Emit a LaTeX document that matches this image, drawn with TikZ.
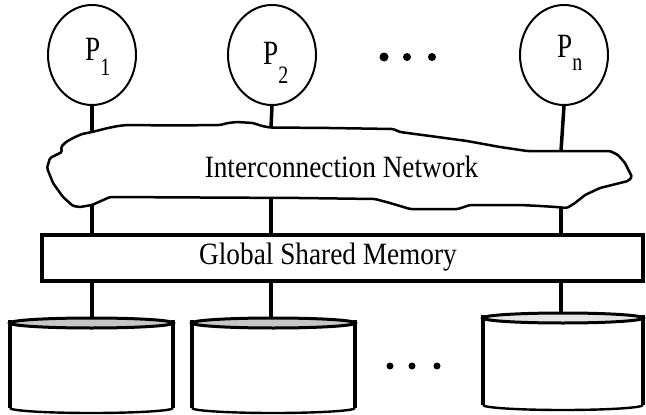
\documentclass[tikz,border=0pt]{standalone}
\usepackage{fontspec}
\setmainfont{Liberation Serif}
\usetikzlibrary{shapes.geometric}
\newcommand{\subsz}[2]{{\fontsize{25}{26}\selectfont\raisebox{-#1pt}{#2}}}
\begin{document}
\begin{tikzpicture}[x=1pt,y=-1pt,
  proc/.style={draw, ellipse, line width=2pt, minimum width=88pt, minimum height=100pt, inner sep=0pt},
  plabel/.style={anchor=base west, inner sep=0pt, xscale=0.8, font=\fontsize{34}{36}\selectfont},
  conn/.style={line width=3.5pt},
  cloudline/.style={line width=2.5pt, line join=round, rounded corners=1.5pt},
  memtext/.style={anchor=base, inner sep=0pt, xscale=0.88, font=\fontsize{31}{33}\selectfont},
  membox/.style={draw, line width=3.5pt, minimum width=601pt, minimum height=46pt, inner sep=0pt},
  dot/.style={fill=black, circle, inner sep=0pt},
  cylside/.style={line width=3.5pt},
  cyltop/.style={line width=3pt, fill=gray!45},
  cylbot/.style={line width=2.4pt}
]
\useasboundingbox (0,0) rectangle (646,415);

% processors
\node[proc] (p1) at (92,55) {};
\node[proc] (p2) at (272,55) {};
\node[proc] (pn) at (564,55) {};
\node[plabel] (l1) at (85,60) {P\subsz{15}{1}};
\node[plabel] (l2) at (263,64) {P\subsz{19}{2}};
\node[plabel] (ln) at (557,57) {P\subsz{13}{n}};
\node[dot, minimum size=9pt] (d1) at (384,57) {};
\node[dot, minimum size=8pt] (d2) at (407,57) {};
\node[dot, minimum size=8pt] (d3) at (432,57) {};

% cloud
\draw[cloudline] (92,132) -- (100,130) -- (108,128) -- (118,126) -- (127,125) -- (175,125.5) -- (220,125)
  -- (228,123) -- (237,122) -- (245,122.5) -- (253,123) -- (262,126) -- (270,127.5)
  -- (330,128) -- (393,129) -- (400,132) -- (430,136) -- (467,141) -- (500,147) -- (527,151)
  -- (564,151) -- (610,151) -- (618,155) -- (625,163) -- (632,177) -- (628,181) -- (620,183)
  -- (600,188) -- (585,195) -- (575,203) -- (567,208) -- (556,207) -- (540,206) -- (520,205)
  -- (470,205) -- (458,209) -- (410,209) -- (390,203) -- (375,199) -- (300,198)
  -- (200,197.5) -- (110,197) -- (92,205) -- (80,207) -- (73,206) -- (63,197) -- (53,183)
  -- (47,168) -- (50,158) -- (56,155) -- (62,152) -- (61,147) -- (66,142) -- (73,138) -- (82,134) -- cycle;
\coordinate (c1t) at (92,132);
\coordinate (c2t) at (271,127.5);
\coordinate (cnt) at (561,151);
\coordinate (c1b) at (92,205);
\coordinate (c2b) at (271,198);
\coordinate (cnb) at (561,208);
\node[memtext] (net) at (341.5,177) {Interconnection Network};

% memory
\node[membox] (mem) at (342.5,258) {};
\node[memtext] (memt) at (328,264) {Global Shared Memory};

% connectors
\draw[conn] (p1.south) -- (c1t);
\draw[conn] (p2.south) -- (c2t);
\draw[conn] (pn.south) -- (cnt);
\draw[conn] (c1b) -- (c1b |- mem.north);
\draw[conn] (c2b) -- (c2b |- mem.north);
\draw[conn] (cnb) -- (cnb |- mem.north);

% disks
\coordinate (k1) at (91.5,323);
\coordinate (k2) at (273.5,323);
\coordinate (kn) at (563,318);
\coordinate (t1) at (92,318);
\coordinate (t2) at (271,318);
\coordinate (tn) at (561,313);
\draw[cylside] (10,320) -- (10,408);
\draw[cylside] (173,320) -- (173,408);
\draw[cylbot] (10,408) arc[start angle=180, end angle=0, x radius=81.5, y radius=5];
\draw[cyltop] (k1) ellipse[x radius=81.5, y radius=5];
\draw[cylside] (192,320) -- (192,408);
\draw[cylside] (355,320) -- (355,408);
\draw[cylbot] (192,408) arc[start angle=180, end angle=0, x radius=81.5, y radius=5];
\draw[cyltop] (k2) ellipse[x radius=81.5, y radius=5];
\draw[cylside] (483,315) -- (483,405);
\draw[cylside] (643,315) -- (643,405);
\draw[cylbot] (483,405) arc[start angle=180, end angle=0, x radius=80, y radius=5];
\draw[cyltop, fill=gray!20] (kn) ellipse[x radius=80, y radius=5];

\draw[conn] (t1 |- mem.south) -- (t1);
\draw[conn] (t2 |- mem.south) -- (t2);
\draw[conn] (tn |- mem.south) -- (tn);

\node[dot, minimum size=7pt] (e1) at (390,366) {};
\node[dot, minimum size=7pt] (e2) at (412,366) {};
\node[dot, minimum size=7pt] (e3) at (437,366) {};
\end{tikzpicture}
\end{document}
